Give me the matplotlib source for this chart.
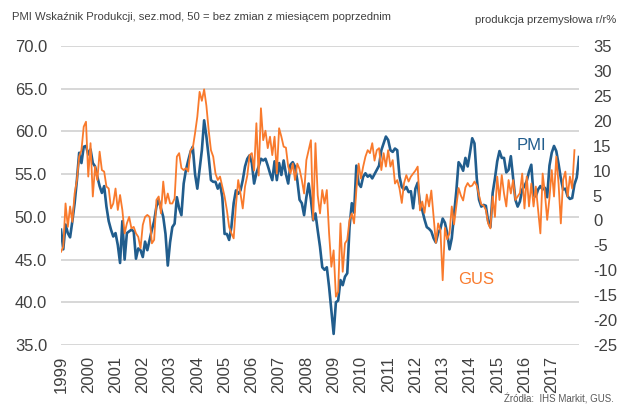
import matplotlib
matplotlib.use('Agg')
import matplotlib.pyplot as plt
import numpy as np

plt.rcParams['font.family'] = ['Liberation Sans', 'DejaVu Sans']

# lata na osi X (etykieta co 12 miesiecy, od stycznia 1999)
years = list(range(1999, 2018))

# PMI wskaznik produkcji, sty 1999 - sty 2018 (lewa os)
pmi = [
    48.5, 46.2, 49.1, 48.1, 47.6, 49.5, 51.6, 54.3, 57.5, 56.3, 58.2, 58.3,  # 1999
    57.3, 57.9, 56.3, 55.9, 54.7, 53.6, 52.8, 53.6, 51.2, 49.5, 48.5, 47.7,  # 2000
    48.1, 46.7, 44.6, 49.5, 45.0, 48.1, 48.3, 48.5, 48.3, 45.1, 46.3, 46.1,  # 2001
    45.3, 47.1, 46.1, 47.3, 48.5, 49.5, 51.2, 52.0, 51.0, 50.0, 48.0, 44.3,  # 2002
    47.0, 48.8, 49.2, 52.3, 51.0, 50.2, 53.9, 55.5, 56.6, 57.6, 58.2, 55.0,  # 2003
    53.3, 55.5, 57.8, 61.3, 59.4, 57.0, 54.3, 54.1, 54.1, 53.3, 53.9, 52.3,  # 2004
    48.0, 48.0, 47.3, 48.8, 51.6, 53.1, 52.7, 53.1, 54.3, 55.9, 56.8, 57.2,  # 2005
    56.3, 53.9, 55.1, 55.9, 56.8, 56.6, 56.8, 56.0, 55.1, 54.3, 56.5, 54.3,  # 2006
    56.3, 54.9, 56.6, 55.0, 53.9, 56.1, 56.4, 55.9, 54.3, 52.0, 51.6, 50.2,  # 2007
    52.3, 53.9, 52.0, 49.6, 50.4, 48.4, 46.5, 44.1, 43.8, 44.1, 41.8, 39.0,  # 2008
    36.3, 40.0, 40.2, 42.6, 42.0, 43.0, 43.4, 48.8, 51.6, 50.5, 56.0, 53.9,  # 2009
    53.5, 54.7, 55.1, 54.7, 54.9, 54.5, 55.0, 55.5, 56.0, 57.8, 58.6, 59.4,  # 2010
    59.0, 57.8, 57.6, 58.0, 57.8, 54.7, 53.5, 53.2, 53.5, 52.9, 53.0, 51.0,  # 2011
    53.3, 54.0, 51.5, 50.8, 49.7, 48.8, 48.6, 48.3, 47.5, 47.0, 48.1, 48.6,  # 2012
    49.8, 49.3, 48.1, 46.2, 47.5, 50.3, 53.0, 56.4, 56.0, 55.4, 56.9, 55.9,  # 2013
    57.5, 59.2, 58.6, 54.5, 52.0, 51.2, 51.4, 51.3, 49.5, 48.8, 52.8, 54.5,  # 2014
    56.5, 57.7, 56.9, 56.9, 55.2, 55.5, 57.1, 54.5, 52.0, 51.2, 51.8, 53.2,  # 2015
    53.6, 54.2, 55.3, 56.1, 52.5, 52.4, 53.2, 53.6, 53.2, 53.4, 52.3, 56.0,  # 2016
    57.5, 58.3, 57.7, 56.2, 54.5, 53.2, 53.3, 52.4, 52.1, 52.2, 53.8, 54.6,  # 2017
    57.0,                                                                    # 2018
]

# produkcja przemyslowa GUS r/r %, sty 1999 - lis 2017 (prawa os)
gus = [
    -6.3, -5.3, 3.4, -1.3, 2.8, -0.3, 5.4, 8.1, 12.8, 14.1, 18.8, 19.8,      # 1999
    8.8, 15.5, 4.8, 10.8, 8.1, 13.8, 10.1, 9.8, 6.8, 6.4, 2.4, 3.4,          # 2000
    6.4, 2.1, 5.1, 2.1, -2.6, -0.6, 0.7, -1.6, -1.3, -2.6, -3.3, -5.6,       # 2001
    -0.9, 0.7, 1.1, 0.7, -4.6, -3.9, 4.1, 4.8, 1.4, 7.8, 3.4, 5.4,           # 2002
    3.4, 3.4, 4.4, 12.8, 13.5, 10.5, 10.1, 10.5, 9.8, 14.1, 14.5, 17.5,      # 2003
    20.8, 25.8, 24.0, 26.3, 23.0, 18.1, 14.1, 12.8, 9.4, 8.1, 8.8, 6.8,      # 2004
    4.8, 2.1, -1.3, -2.6, -3.6, 3.0, 8.1, 5.4, 2.4, 6.8, 9.0, 13.1,          # 2005
    13.5, 10.0, 19.5, 9.0, 22.5, 16.1, 18.0, 14.5, 16.8, 13.1, 16.8, 9.4,    # 2006
    18.5, 16.8, 14.8, 14.6, 10.8, 9.4, 11.4, 8.1, 11.4, 10.3, 8.1, 5.4,      # 2007
    12.1, 14.1, 16.1, 0.1, 15.5, 5.0, 1.4, 6.1, 3.4, 6.1, -2.6, -9.3,        # 2008
    -6.0, -15.3, -14.3, -0.6, -10.3, -4.6, -3.9, 0.1, 1.4, -0.6, 6.1, 11.4,  # 2009
    8.4, 10.8, 12.8, 14.1, 13.5, 15.5, 12.0, 14.1, 14.5, 10.1, 13.5, 10.8,   # 2010
    14.1, 10.8, 12.1, 7.4, 8.1, 6.4, 3.5, 7.5, 9.1, 7.8, 8.8, 9.4,           # 2011
    10.0, 10.8, 2.0, 3.8, 1.5, 5.2, 2.8, 6.0, 0.7, -4.5, -0.6, -2.0,         # 2012
    -12.0, -1.5, -3.8, -2.6, 2.8, -0.8, 2.8, 6.5, 5.0, 4.0, 6.6, 7.5,        # 2013
    6.8, 7.0, 7.8, 7.0, 5.0, 3.2, 3.0, 2.1, -0.6, -1.6, 4.8, 0.7,            # 2014
    8.8, 4.1, 9.1, 5.4, 2.8, 8.1, 5.4, 8.1, 4.1, 4.8, 5.5, 9.4,              # 2015
    2.4, 8.8, 2.8, 7.4, 2.8, 6.8, 2.1, -2.6, 9.4, 5.4, 0.1, 4.5,             # 2016
    10.1, 4.8, 12.8, 7.4, -0.6, 8.1, 9.8, 4.8, 8.8, 6.4, 14.1,               # 2017
]

left_ticks = [35, 40, 45, 50, 55, 60, 65, 70]
right_ticks = [-25, -20, -15, -10, -5, 0, 5, 10, 15, 20, 25, 30, 35]

blue = '#215d8d'
orange = '#f97a2c'
txt = '#404040'

W, H = 627, 408
fig = plt.figure(figsize=(W / 100, H / 100), dpi=100)
ax = fig.add_axes([61 / W, 1 - 345 / H, 518 / W, 299 / H])
ax2 = ax.twinx()

ax.plot(np.arange(len(pmi)), pmi, color=blue, lw=1.9, solid_joinstyle='round')
ax2.plot(np.arange(len(gus)), gus, color=orange, lw=1.3, solid_joinstyle='round')

ax.set_xlim(0, len(pmi) - 1)
ax.set_ylim(35, 70)
ax2.set_ylim(-25, 35)

ax.set_yticks(left_ticks)
ax.set_yticklabels(['%.1f' % v for v in left_ticks])
ax2.set_yticks(right_ticks)
ax2.set_yticklabels([str(v) for v in right_ticks])
ax.set_xticks([12 * k for k in range(len(years))])
ax.set_xticklabels([str(y) for y in years], rotation=90)

ax.grid(axis='y', color='#d4d4d4', lw=1.3)
ax.set_axisbelow(True)
for a in (ax, ax2):
    for s in a.spines.values():
        s.set_visible(False)
ax.tick_params(axis='y', length=0, labelsize=12, colors=txt, pad=10)
ax.tick_params(axis='x', length=0, labelsize=12, colors=txt, pad=8)
ax2.tick_params(axis='y', length=0, labelsize=12, colors=txt, pad=10)

fig.text(12 / W, 1 - 17 / H, 'PMI Wskaźnik Produkcji, sez.mod, 50 = bez zmian z miesiącem poprzednim',
         fontsize=8.1, color=txt, ha='left', va='center')
fig.text(616 / W, 1 - 20 / H, 'produkcja przemysłowa r/r%',
         fontsize=8.1, color=txt, ha='right', va='center')
fig.text(614 / W, 1 - 399 / H, 'Źródła:  IHS Markit, GUS.',
         fontsize=7, color='#595959', ha='right', va='center')

fig.text(531 / W, 1 - 145 / H, 'PMI', fontsize=12, color=blue, ha='center', va='center')
fig.text(476 / W, 1 - 280 / H, 'GUS', fontsize=12, color=orange, ha='center', va='center')

fig.savefig('out.png', dpi=100)
